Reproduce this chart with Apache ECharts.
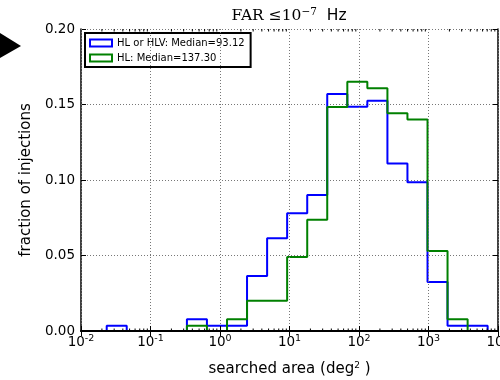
<!DOCTYPE html>
<html>
<head>
<meta charset="utf-8">
<script src="https://cdn.jsdelivr.net/npm/echarts@6/dist/echarts.min.js"></script>
<style>
  html, body { margin: 0; padding: 0; background: #fff; }
  #chart { width: 500px; height: 380px; }
</style>
</head>
<body>
<div id="chart"></div>
<script>
// bin edges of the histogram (deg^2), log spaced
const binEdges = [0.02344, 0.0455, 0.0885, 0.1718, 0.3342, 0.6486, 1.262, 2.449, 4.764, 9.247,
  17.99, 34.91, 67.92, 131.8, 256.4, 497.7, 968.3, 1879, 3656, 7096];

// fraction of injections per bin
const blueValues = [0.0035, 0, 0, 0, 0.0078, 0.0035, 0.0035, 0.0365, 0.0615, 0.078,
  0.090, 0.157, 0.1485, 0.1525, 0.111, 0.0985, 0.0325, 0.0035, 0.0035];
const greenValues = [0, 0, 0, 0, 0.0035, 0, 0.0077, 0.020, 0.020, 0.049,
  0.0737, 0.1483, 0.165, 0.1607, 0.1442, 0.140, 0.053, 0.0077, 0];

const blueName = 'HL or HLV: Median=93.12';
const greenName = 'HL: Median=137.30';

// minor tick positions (matplotlib style 2..9 x 10^k)
const minorMultipliers = [2, 3, 4, 5, 6, 7, 8, 9];
const minorDecades = [0.01, 0.1, 1, 10, 100, 1000];

const FONT = 'DejaVu Sans';

// outline of a step histogram
function stepPoints(values) {
  const pts = [[binEdges[0], 0]];
  values.forEach((v, i) => {
    pts.push([binEdges[i], v]);
    pts.push([binEdges[i + 1], v]);
  });
  pts.push([binEdges[binEdges.length - 1], 0]);
  return pts;
}

const minorTicks = [];
minorDecades.forEach((d) => minorMultipliers.forEach((m) => minorTicks.push([d * m, 0])));

const chart = echarts.init(document.getElementById('chart'));

const logAxisBase = {
  type: 'log',
  logBase: 10,
  min: 0.01,
  max: 10000,
  splitNumber: 6,
};

chart.setOption({
  animation: false,
  grid: {
    left: 81,
    right: 2,
    top: 29,
    bottom: 49,
    containLabel: false,
    outerBoundsMode: 'none',
  },
  graphic: [
    {
      type: 'polygon',
      shape: { points: [[0, 33], [21, 46], [0, 58]] },
      style: { fill: '#000' },
    },
    {
      type: 'text',
      x: 289,
      y: 16,
      style: {
        text: '{a|FAR ≤10}{b|−7}{c|  Hz}',
        align: 'center',
        verticalAlign: 'middle',
        rich: {
          a: { fontFamily: 'DejaVu Serif', fontSize: 15.5, fill: '#000', lineHeight: 18 },
          b: { fontFamily: 'DejaVu Serif', fontSize: 10.5, fill: '#000', padding: [0, 0, 8, 0] },
          c: { fontFamily: FONT, fontSize: 15.5, fill: '#000', lineHeight: 18 },
        },
      },
    },
  ],
  legend: {
    left: 85,
    top: 33,
    orient: 'vertical',
    backgroundColor: '#fff',
    borderColor: '#000',
    borderWidth: 2,
    borderRadius: 0,
    padding: [4, 6, 3, 4],
    itemWidth: 22,
    itemHeight: 7,
    itemGap: 3,
    textStyle: { fontFamily: FONT, fontSize: 10, color: '#000', lineHeight: 12 },
    data: [
      { name: blueName, icon: 'rect', itemStyle: { color: '#fff', borderColor: '#0000ff', borderWidth: 2 } },
      { name: greenName, icon: 'rect', itemStyle: { color: '#fff', borderColor: '#008000', borderWidth: 2 } },
    ],
  },
  xAxis: [
    Object.assign({}, logAxisBase, {
      position: 'bottom',
      z: 5,
      name: 'searched area (deg{s|2} )',
      nameLocation: 'middle',
      nameGap: 30,
      nameTextStyle: {
        fontFamily: FONT,
        fontSize: 15,
        color: '#000',
        rich: {
          s: { fontFamily: FONT, fontSize: 9, color: '#000', padding: [0, 0, 7, 0] },
        },
      },
      axisLine: { show: true, lineStyle: { color: '#000', width: 2 } },
      axisTick: { show: true, inside: true, length: 5, lineStyle: { color: '#000', width: 1 } },
      axisLabel: {
        margin: 3,
        showMinLabel: true,
        showMaxLabel: true,
        formatter: (v) => '{b|10}{s|' + Math.round(Math.log10(v)) + '}',
        rich: {
          b: { fontFamily: FONT, fontSize: 13.5, color: '#000', lineHeight: 16 },
          s: { fontFamily: FONT, fontSize: 9.5, color: '#000', padding: [0, 0, 7, 0] },
        },
      },
      splitLine: { show: true, lineStyle: { color: '#777', type: [1, 2], width: 1 } },
    }),
    Object.assign({}, logAxisBase, {
      position: 'top',
      axisLine: { show: true, lineStyle: { color: '#000', width: 1.5 } },
      axisTick: { show: true, inside: true, length: 5, lineStyle: { color: '#000', width: 1 } },
      axisLabel: { show: false },
      splitLine: { show: false },
    }),
  ],
  yAxis: [
    {
      type: 'value',
      min: 0,
      max: 0.2,
      interval: 0.05,
      position: 'left',
      name: 'fraction of injections',
      nameLocation: 'middle',
      nameGap: 43,
      nameTextStyle: { fontFamily: FONT, fontSize: 15, color: '#000' },
      axisLine: { show: true, lineStyle: { color: '#000', width: 1.5 } },
      axisTick: { show: true, inside: true, length: 5, lineStyle: { color: '#000', width: 1 } },
      axisLabel: {
        margin: 6,
        fontFamily: FONT,
        fontSize: 13.5,
        color: '#000',
        formatter: (v) => v.toFixed(2),
      },
      splitLine: { show: true, lineStyle: { color: '#777', type: [1, 2], width: 1 } },
    },
    {
      type: 'value',
      min: 0,
      max: 0.2,
      interval: 0.05,
      position: 'right',
      axisLine: { show: true, lineStyle: { color: '#000', width: 1.5 } },
      axisTick: { show: true, inside: true, length: 5, lineStyle: { color: '#000', width: 1 } },
      axisLabel: { show: false },
      splitLine: { show: false },
    },
  ],
  series: [
    {
      name: 'minor ticks',
      type: 'custom',
      xAxisIndex: 0,
      yAxisIndex: 0,
      silent: true,
      clip: false,
      z: 6,
      data: minorTicks,
      renderItem: (params, api) => {
        const x = api.value(0);
        const b = api.coord([x, 0]);
        const t = api.coord([x, 0.2]);
        const style = { stroke: '#000', lineWidth: 1 };
        return {
          type: 'group',
          children: [
            { type: 'line', shape: { x1: b[0], y1: b[1], x2: b[0], y2: b[1] - 2.5 }, style },
            { type: 'line', shape: { x1: t[0], y1: t[1], x2: t[0], y2: t[1] + 2.5 }, style },
          ],
        };
      },
    },
    {
      name: blueName,
      type: 'line',
      xAxisIndex: 0,
      yAxisIndex: 0,
      data: stepPoints(blueValues),
      showSymbol: false,
      symbol: 'none',
      lineStyle: { color: '#0000ff', width: 2 },
      itemStyle: { color: '#0000ff' },
    },
    {
      name: greenName,
      type: 'line',
      xAxisIndex: 0,
      yAxisIndex: 0,
      data: stepPoints(greenValues),
      showSymbol: false,
      symbol: 'none',
      lineStyle: { color: '#008000', width: 2 },
      itemStyle: { color: '#008000' },
    },
  ],
});
</script>
</body>
</html>
